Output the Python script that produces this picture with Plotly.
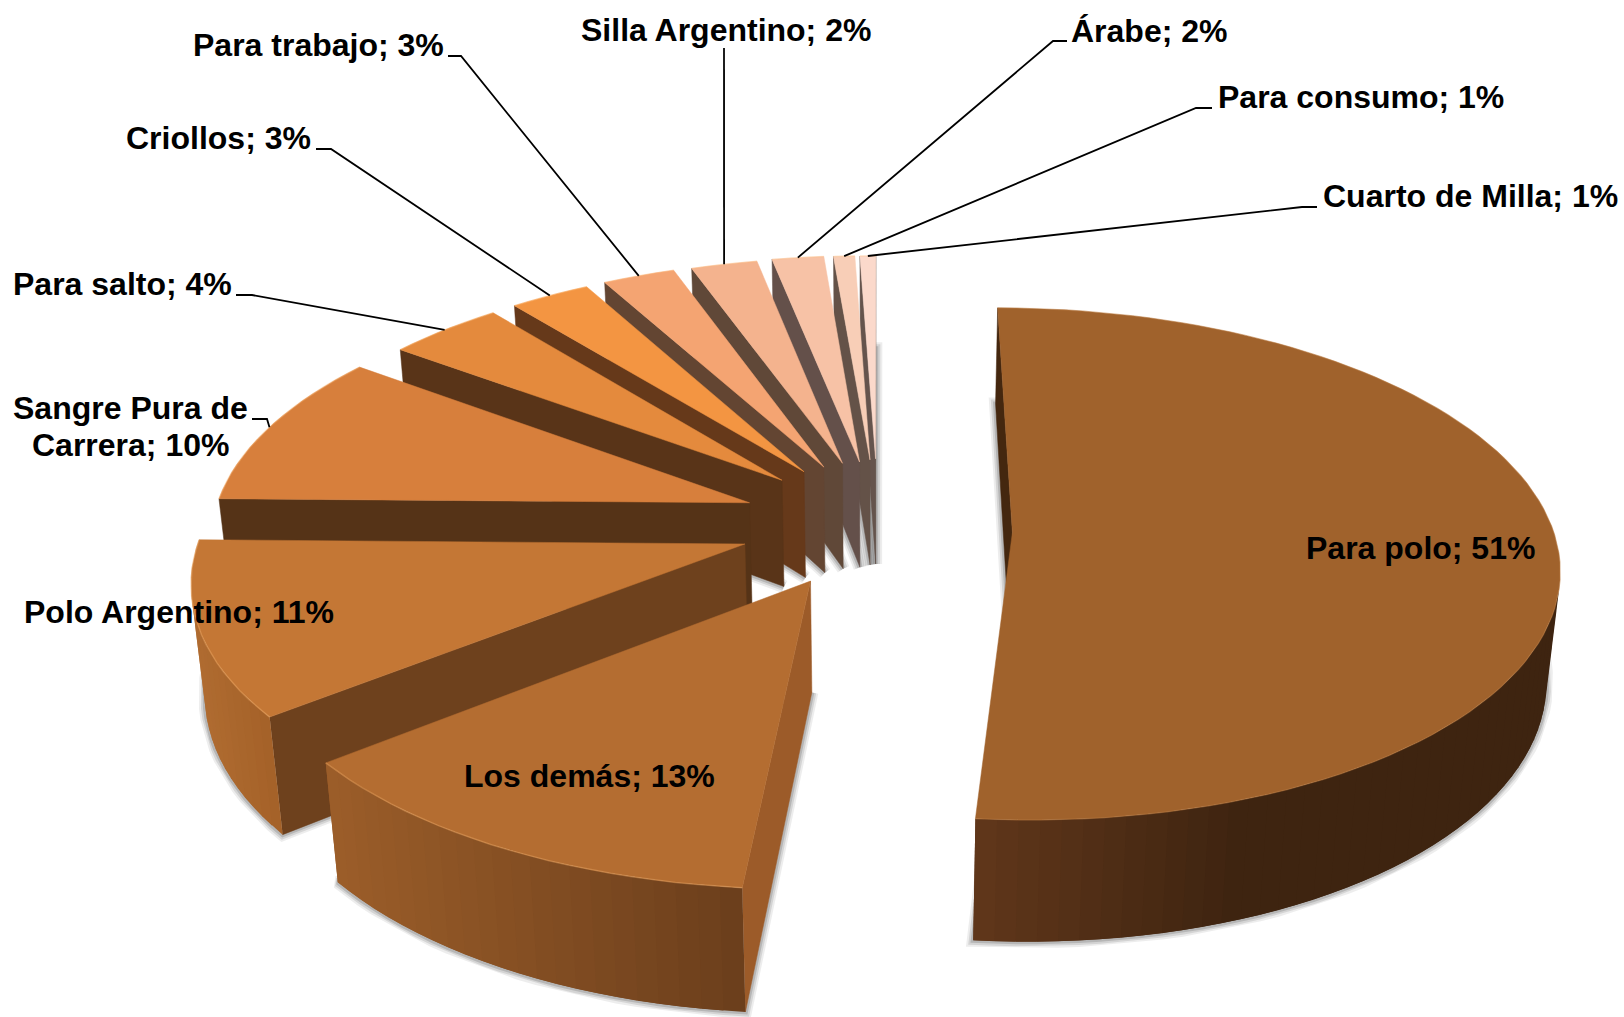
import math
import plotly.graph_objects as go

# ---- data ----
categories = ["Para polo", "Los demás", "Polo Argentino", "Sangre Pura de Carrera", "Para salto",
              "Criollos", "Para trabajo", "Silla Argentino", "Árabe", "Para consumo", "Cuarto de Milla"]
values = [51.45, 12.86, 10.97, 9.89, 4.06, 2.81, 2.53, 2.33, 1.81, 0.75, 0.56]

# ---- style ----
top_colors = ["#A0622C", "#B46D31", "#C47735", "#D77F3C", "#E48A3D", "#F39542",
              "#F4A472", "#F4B38E", "#F7C2A6", "#F8CEB7", "#FBD9CB"]
cut_colors = ["#44270F", "#9C5B29", "#6E411D", "#553317", "#593418", "#66391A",
              "#634532", "#604838", "#64504A", "#645248", "#65544D"]
wall_left = ["#5F361A", "#9B5D29", "#B06C31", "#A5602B", "#A5602B", "#A5602B",
             "#806040", "#806040", "#806040", "#806040", "#806040"]
wall_right = ["#3E2410", "#6C3F1C", "#A56229", "#A5602B", "#A5602B", "#A5602B",
              "#806040", "#806040", "#806040", "#806040", "#806040"]
wall_reach = [0.45, 1, 1, 1, 1, 1, 1, 1, 1, 1, 1]
pull = [0.246, 0.2515, 0.253, 0.249, 0.247, 0.248, 0.247, 0.25, 0.249, 0.256, 0.26]
pull_tilt = [6.0, 0, 0, 0, 0, 0, 0, 0, 0, 0, 0]
radius = [0.98, 0.996, 0.985, 0.977, 0.96, 0.96, 0.962, 0.955, 0.959, 0.95, 0.945]

start_angle = 0.0
CX, CY, SX, SY, K, M = 878, 523, 550, 255, 0.125, 0.02
H0, H1 = 108.5, 13.0

# label centres (one entry per text line) and leader elbows, in page pixels
label_pos = {
    "Para polo": [(1420, 548)],
    "Los demás": [(589, 776)],
    "Polo Argentino": [(179, 612)],
    "Sangre Pura de Carrera": [(130, 408), (130, 445)],
    "Para salto": [(122, 284)],
    "Criollos": [(218, 138)],
    "Para trabajo": [(318, 45)],
    "Silla Argentino": [(726, 30)],
    "Árabe": [(1149, 31)],
    "Para consumo": [(1361, 97)],
    "Cuarto de Milla": [(1470, 196)],
}
leaders = {
    "Sangre Pura de Carrera": [(252, 419), (267, 419)],
    "Para salto": [(236, 295), (252, 295)],
    "Criollos": [(316, 149), (331, 149)],
    "Para trabajo": [(448, 56), (461, 56)],
    "Silla Argentino": [(724, 48), (724, 48)],
    "Árabe": [(1067, 41), (1053, 41)],
    "Para consumo": [(1212, 108), (1196, 108)],
    "Cuarto de Milla": [(1317, 207), (1302, 207)],
}


def project(X, Y, Z=0.0):
    w0 = 1 + K * Y
    return CX + SX * X / (w0 + M * Z), CY - SY * Y / w0 + (H0 - H1 * Y) * Z


def mix(c1, c2, t):
    a = [int(c1[i:i + 2], 16) for i in (1, 3, 5)]
    b = [int(c2[i:i + 2], 16) for i in (1, 3, 5)]
    return "#%02X%02X%02X" % tuple(round(p + (q - p) * t) for p, q in zip(a, b))


def area(pts):
    return sum(pts[i][0] * pts[(i + 1) % len(pts)][1] - pts[(i + 1) % len(pts)][0] * pts[i][1]
               for i in range(len(pts)))


def poly(fig, pts, fill=None, line=None, width=0):
    xs = [p[0] for p in pts] + [pts[0][0]]
    ys = [p[1] for p in pts] + [pts[0][1]]
    fig.add_trace(go.Scatter(
        x=xs, y=ys, mode="lines", hoverinfo="skip", showlegend=False,
        fill="toself" if fill else "none", fillcolor=fill,
        line=dict(color=line or fill, width=width)))


total = sum(values)
slices = []
acc = start_angle
for i, v in enumerate(values):
    span = v / total * 360
    a0, a1 = acc, acc + span
    acc = a1
    mid = math.radians((a0 + a1) / 2 + pull_tilt[i])
    px, py = pull[i] * math.sin(mid), pull[i] * math.cos(mid)
    n = max(2, int(span / 2.0))
    ang = [math.radians(a0 + (a1 - a0) * j / n) for j in range(n + 1)]
    rim = [(px + radius[i] * math.sin(t), py + radius[i] * math.cos(t)) for t in ang]
    slices.append(dict(i=i, apex=(px, py), rim=rim,
                       mid=(px + radius[i] * math.sin(math.radians((a0 + a1) / 2)),
                            py + radius[i] * math.cos(math.radians((a0 + a1) / 2)))))

fig = go.Figure()

# soft shadow round the underside of every slice
for s in slices:
    ring = [s["apex"]] + s["rim"]
    under = [project(x, y, 1) for x, y in ring]
    for wd, col in ((13, "rgba(0,0,0,0.07)"), (9, "rgba(0,0,0,0.10)"), (5, "rgba(0,0,0,0.14)")):
        poly(fig, under, fill=None, line=col, width=wd)

# back-to-front painting
for s in reversed(slices[1:] + slices[:1]):
    i = s["i"]
    ring = [s["apex"]] + s["rim"]
    tops = [project(x, y, 0) for x, y in ring]
    bots = [project(x, y, 1) for x, y in ring]
    m = len(ring)
    vis = []
    for j in range(1, m - 1):
        q = [tops[j], tops[j + 1], bots[j + 1], bots[j]]
        if area(q) < 0:
            vis.append(j)
    # cut faces
    for a, b in ((0, 1), (m - 1, 0)):
        q = [tops[a], tops[b], bots[b], bots[a]]
        if area(q) < 0:
            poly(fig, q, fill=cut_colors[i], line=cut_colors[i], width=0.5)
    # outer wall: strips overlap the next one so that no seams show
    if vis:
        xmin = min(tops[j][0] for j in vis)
        xmax = max(tops[j][0] for j in vis)
        for j in vis:
            e = min(j + 2, vis[-1] + 1)
            q = [tops[k] for k in range(j, e + 1)] + [bots[k] for k in range(e, j - 1, -1)]
            t = (tops[j][0] - xmin) / max(1, xmax - xmin)
            poly(fig, q, fill=mix(wall_left[i], wall_right[i], min(1, t / wall_reach[i])))
    poly(fig, tops, fill=top_colors[i], line=top_colors[i], width=0.5)
    # light bevel along the rim
    rim_pts = tops[1:]
    fig.add_trace(go.Scatter(x=[p[0] for p in rim_pts], y=[p[1] for p in rim_pts], mode="lines",
                             hoverinfo="skip", showlegend=False,
                             line=dict(color="rgba(255,190,120,0.3)" if i else "rgba(255,190,120,0.12)",
                                       width=1.5)))

# leader lines
for s in slices:
    name = categories[s["i"]]
    if name in leaders:
        pts = list(leaders[name]) + [project(*s["mid"], 0)]
        fig.add_trace(go.Scatter(x=[p[0] for p in pts], y=[p[1] for p in pts], mode="lines",
                                 hoverinfo="skip", showlegend=False,
                                 line=dict(color="#000000", width=1.8)))

# labels
for name, v in zip(categories, values):
    text = f"{name}; {round(v / total * 100)}%"
    pos = label_pos[name]
    if len(pos) == 2:
        parts = ["Sangre Pura de", text[len("Sangre Pura de "):]]
    else:
        parts = [text]
    for (x, y), part in zip(pos, parts):
        fig.add_annotation(x=x, y=y, text=f"<b>{part}</b>", showarrow=False,
                           xanchor="center", yanchor="middle",
                           font=dict(family="Liberation Sans", size=32, color="#000000"))

fig.update_layout(
    width=1624, height=1017, margin=dict(l=0, r=0, t=0, b=0),
    paper_bgcolor="#FFFFFF", plot_bgcolor="#FFFFFF", showlegend=False,
    xaxis=dict(range=[0, 1624], visible=False, fixedrange=True),
    yaxis=dict(range=[1017, 0], visible=False, fixedrange=True),
)
fig.write_html("out.html", config={"displayModeBar": False},
               post_script="document.body.style.margin='0';document.body.style.overflow='hidden';")
